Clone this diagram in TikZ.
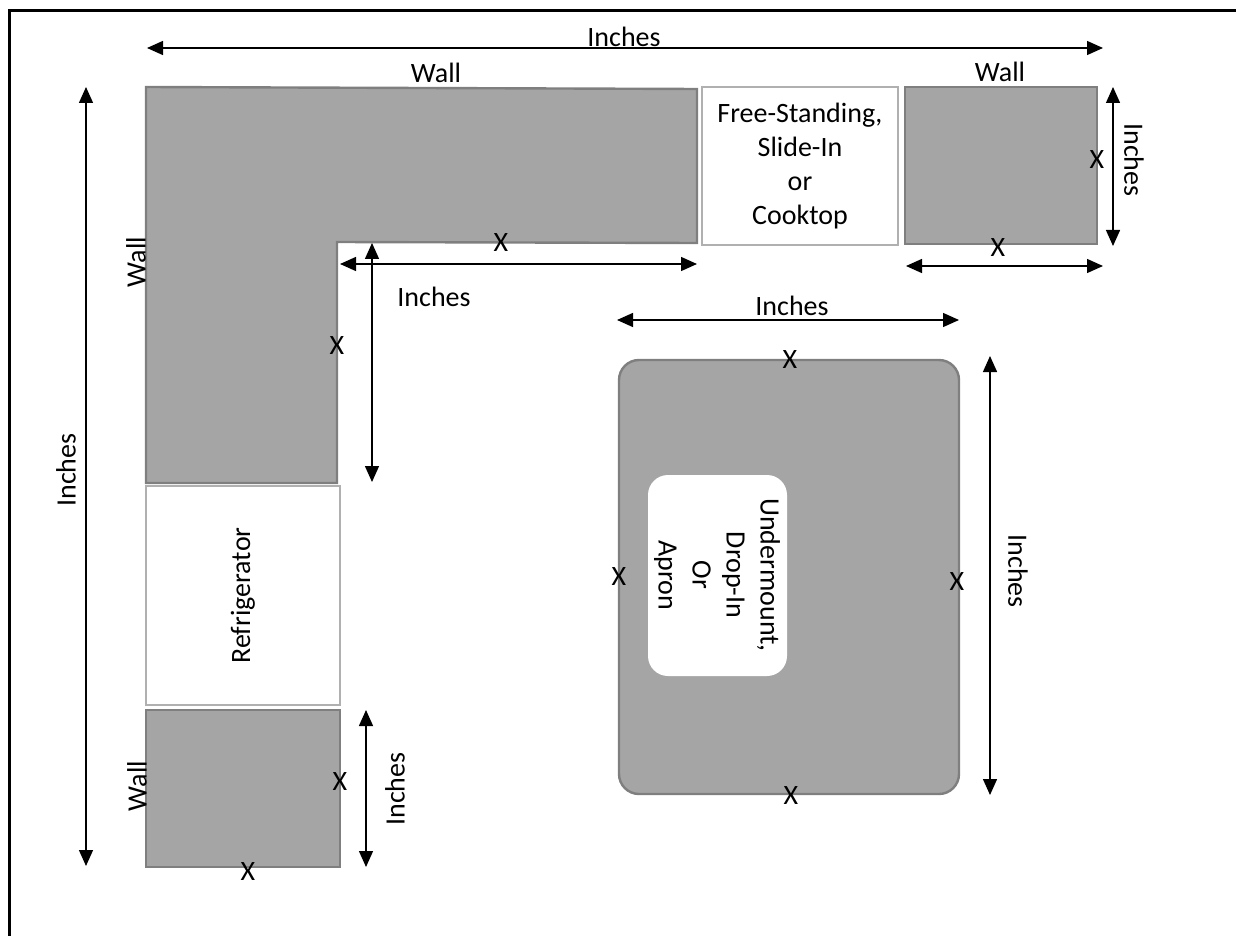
\documentclass[tikz,border=0pt]{standalone}
\usepackage{fontspec}
\setmainfont{Carlito}
\usetikzlibrary{arrows.meta}
\begin{document}
\begin{tikzpicture}[x=0.5pt,y=-0.5pt,
  cab/.style={fill=cabgray,draw=cabedge,line width=1.2pt},
  appl/.style={fill=white,draw=appledge,line width=1.2pt},
  dim/.style={line width=0.7pt,{Triangle[length=8pt,width=7pt]}-{Triangle[length=8pt,width=7pt]}},
  lbl/.style={font=\fontsize{14}{17}\selectfont,inner sep=0pt,align=center},
  mk/.style={font=\fontsize{14}{17}\selectfont,inner sep=0pt}]
\definecolor{cabgray}{HTML}{A5A5A5}
\definecolor{cabedge}{HTML}{7F7F7F}
\definecolor{appledge}{HTML}{B0B0B0}
\useasboundingbox (0,0) rectangle (1236,936);
% frame
\draw[line width=1.5pt] (9,936) -- (9,11) -- (1236,11);
% L-shaped cabinet
\draw[cab] (146,87) -- (697,89) -- (697,243) -- (337,242) -- (337,483) -- (146,483) -- cycle;
% cooktop
\draw[appl] (702,87) rectangle node[lbl] {Free-Standing,\\Slide-In\\or\\Cooktop} (898,245);
% right cabinet
\draw[cab] (905,87) rectangle (1097,244);
% refrigerator
\draw[appl] (146,486) rectangle node[lbl,rotate=90] {Refrigerator} (340,705);
% bottom cabinet
\draw[cab] (146,710) rectangle (340,867);
% island
\draw[cab,rounded corners=10pt] (619,360) rectangle (959,794);
\draw[fill=white,draw=none,rounded corners=10pt] (648,475) rectangle (787,676);
\node[lbl,rotate=-90] (sinktxt) at (717,575) {Undermount,\\Drop-In\\Or\\Apron};

% coordinates for dimension arrows
\coordinate (tA) at (147,48); \coordinate (tB) at (1103,48);
\coordinate (lA) at (86,87); \coordinate (lB) at (86,866);
\coordinate (ihA) at (340,264); \coordinate (ihB) at (697,264);
\coordinate (ivA) at (372,243); \coordinate (ivB) at (372,482);
\coordinate (rvA) at (1113,87); \coordinate (rvB) at (1113,246);
\coordinate (rhA) at (906,266); \coordinate (rhB) at (1103,266);
\coordinate (bvA) at (366,710); \coordinate (bvB) at (366,867);
\coordinate (ihiA) at (617,320); \coordinate (ihiB) at (959,320);
\coordinate (iviA) at (990,356); \coordinate (iviB) at (990,795);
\draw[dim] (tA) -- (tB);
\draw[dim] (lA) -- (lB);
\draw[dim] (ihA) -- (ihB);
\draw[dim] (ivA) -- (ivB);
\draw[dim] (rvA) -- (rvB);
\draw[dim] (rhA) -- (rhB);
\draw[dim] (bvA) -- (bvB);
\draw[dim] (ihiA) -- (ihiB);
\draw[dim] (iviA) -- (iviB);

% labels
\node[lbl] (t1) at (624,37) {Inches};
\node[lbl] (w1) at (436,73) {Wall};
\node[lbl] (w2) at (1000,72) {Wall};
\node[lbl,rotate=90] (w3) at (136,262) {Wall};
\node[lbl,rotate=90] (w4) at (137,786) {Wall};
\node[lbl,rotate=90] (l1) at (66,470) {Inches};
\node[lbl] (l2) at (434,297) {Inches};
\node[lbl,rotate=-90] (l3) at (1134,160) {Inches};
\node[lbl,rotate=90] (l4) at (395,789) {Inches};
\node[lbl] (l5) at (792,306) {Inches};
\node[lbl,rotate=-90] (l6) at (1018,571) {Inches};

% X marks
\node[mk] (x1) at (501,243) {X};
\node[mk] (x2) at (337,346) {X};
\node[mk] (x3) at (1097,160) {X};
\node[mk] (x4) at (998,248) {X};
\node[mk] (x5) at (340,782) {X};
\node[mk] (x6) at (248,872) {X};
\node[mk] (x7) at (790,360) {X};
\node[mk] (x8) at (791,796) {X};
\node[mk] (x9) at (619,577) {X};
\node[mk] (x10) at (957,582) {X};
\end{tikzpicture}
\end{document}
